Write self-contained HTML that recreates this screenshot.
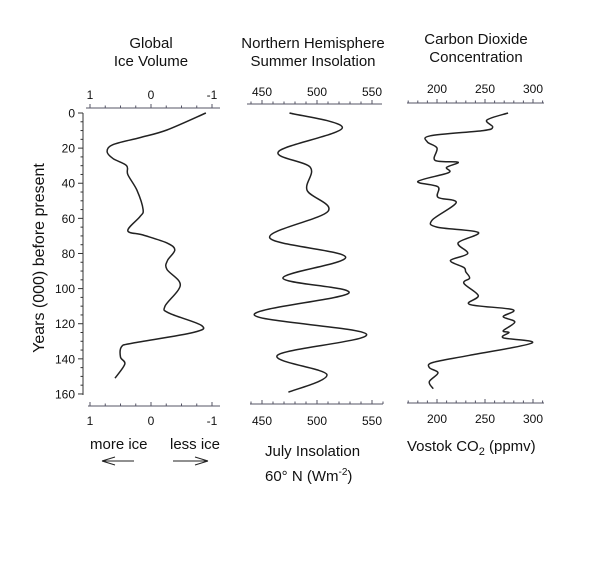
<!DOCTYPE html>
<html><head><meta charset="utf-8"><style>
body{margin:0;background:#fff;width:615px;height:571px;overflow:hidden}
svg{font-family:"Liberation Sans",Arial,sans-serif}
</style></head><body>
<svg id="c" width="615" height="571">
<g font-size="15" text-anchor="middle" fill="#111">
<text x="151" y="48">Global</text>
<text x="151" y="66">Ice Volume</text>
<text x="313" y="48">Northern Hemisphere</text>
<text x="313" y="66">Summer Insolation</text>
<text x="476" y="44">Carbon Dioxide</text>
<text x="476" y="62">Concentration</text>
</g>
<text transform="translate(44,258) rotate(-90)" font-size="16" text-anchor="middle" fill="#111">Years (000) before present</text>
<g font-size="15" fill="#111">
<text x="90" y="449">more ice</text>
<text x="170" y="449">less ice</text>
<text x="265" y="456">July Insolation</text>
<text x="265" y="481">60° N (Wm<tspan dy="-6" font-size="10">-2</tspan><tspan dy="6">)</tspan></text>
<text x="407" y="451">Vostok CO<tspan dy="4" font-size="11">2</tspan><tspan dy="-4"> (ppmv)</tspan></text>
</g>
<g stroke="#222" stroke-width="1" fill="none">
<path d="M102 461H134M102 461l13-4M102 461l13 4"/>
<path d="M173 461H208M208 461l-13-4M208 461l-13 4"/>
</g>
<g id="plots"></g>
</svg>
<script>
const ages=[0,20,40,60,80,100,120,140,160];
const iceTicks=[1,0,-1];
const insTicks=[450,500,550];
const co2Ticks=[200,250,300];
const iceAge=[0,9.7,14,18,22,26,30,35,44,55,59,67,69.5,74,78,84,89,98,110,114,121,125,131,133,139,143,151];
const iceVal=[-0.9,-0.26,0.18,0.62,0.72,0.62,0.4,0.38,0.23,0.13,0.18,0.38,0.13,-0.26,-0.39,-0.27,-0.26,-0.48,-0.23,-0.3,-0.83,-0.69,0.29,0.48,0.5,0.43,0.59];
const insAge=[0,8.5,22,31,44,56,71,82,94,102.5,115,126,138,149,159];
const insVal=[475,523,465,494,491,510,457,526,469,529,443,545,464,509,474];
const co2Age=[0,4,8,10,13,16.5,20,27,28,31,34,39,42,48,51,61,65,68,74,80,84,88,90.5,94,97,104,109,112,116,119,124,125,128,131,138,142,145,148,153,157];
const co2Val=[274,252,258,248,193,190,200,198,222,210,212,180,201,201,220,195,200,243,222,232,214,228,230,234,228,243,234,279,269,281,269,275,269,299,234,196,192,201,192,196];

const NS='http://www.w3.org/2000/svg';
const root=document.getElementById('plots');
function mk(tag,attrs,parent){const e=document.createElementNS(NS,tag);for(const k in attrs)e.setAttribute(k,attrs[k]);(parent||root).appendChild(e);return e;}
const yA=a=>113+a*1.756;
function smooth(pts){let d='M'+pts[0][0]+' '+pts[0][1];for(let i=0;i<pts.length-1;i++){const p0=pts[i-1]||pts[i],p1=pts[i],p2=pts[i+1],p3=pts[i+2]||p2;
d+=' C'+(p1[0]+(p2[0]-p0[0])/6).toFixed(1)+' '+(p1[1]+(p2[1]-p0[1])/6).toFixed(1)+' '+(p2[0]-(p3[0]-p1[0])/6).toFixed(1)+' '+(p2[1]-(p3[1]-p1[1])/6).toFixed(1)+' '+p2[0].toFixed(1)+' '+p2[1].toFixed(1);}return d;}
function hAxis(name,y,x0,x1,ticks,xf,minorStep,labelY,lo,hi){
  const g=mk('g',{});
  
  
  mk('line',{x1:x0,x2:x1,y1:y,y2:y,stroke:'#556',"stroke-width":1},g);
  for(let v=lo;v<=hi+1e-9;v+=minorStep){const x=xf(v);if(x<x0-0.5||x>x1+0.5)continue;mk('line',{x1:x,x2:x,y1:y,y2:y-2.5,stroke:'#556'},g);}
  ticks.forEach(t=>{const x=xf(t);mk('line',{x1:x,x2:x,y1:y,y2:y-4,stroke:'#556'},g);
    const tx=mk('text',{x:x,y:labelY,"font-size":12,"text-anchor":"middle",fill:'#111'},g);tx.textContent=String(t);});
}
const xIce=v=>151-v*61;
hAxis('ice-top-axis',108,86,220,iceTicks,xIce,0.25,99,-1.25,1.25);
hAxis('ice-bottom-axis',406,88,220,iceTicks,xIce,0.25,425,-1.25,1.25);
const yg=mk('g',{});


mk('line',{x1:83,x2:83,y1:yA(0),y2:yA(160)+1,stroke:'#333'},yg);
for(let a=0;a<=160;a+=5){mk('line',{x1:83,x2:a%20==0?78:80.5,y1:yA(a),y2:yA(a),stroke:'#333'},yg);}
ages.forEach(a=>{const t=mk('text',{x:75,y:yA(a)+4.5,"font-size":12,"text-anchor":"end",fill:'#111'},yg);t.textContent=a;});
const l1=mk('path',{d:smooth(iceAge.map((a,i)=>[xIce(iceVal[i]),yA(a)])),fill:'none',stroke:'#222',"stroke-width":1.5});


const xIns=v=>262+(v-450)*1.1;
hAxis('insolation-top-axis',104,247,382,insTicks,xIns,10,96,440,560);
hAxis('insolation-bottom-axis',404,250,383,insTicks,xIns,10,425,440,560);
const l2=mk('path',{d:smooth(insAge.map((a,i)=>[xIns(insVal[i]),yA(a)])),fill:'none',stroke:'#222',"stroke-width":1.5});


const xCO2=v=>437+(v-200)*0.96;
hAxis('co2-top-axis',103,407,544,co2Ticks,xCO2,10,93,170,310);
hAxis('co2-bottom-axis',403,407,544,co2Ticks,xCO2,10,423,170,310);
const l3=mk('path',{d:smooth(co2Age.map((a,i)=>[xCO2(co2Val[i]),yA(a)])),fill:'none',stroke:'#222',"stroke-width":1.5});


</script>
</body></html>
